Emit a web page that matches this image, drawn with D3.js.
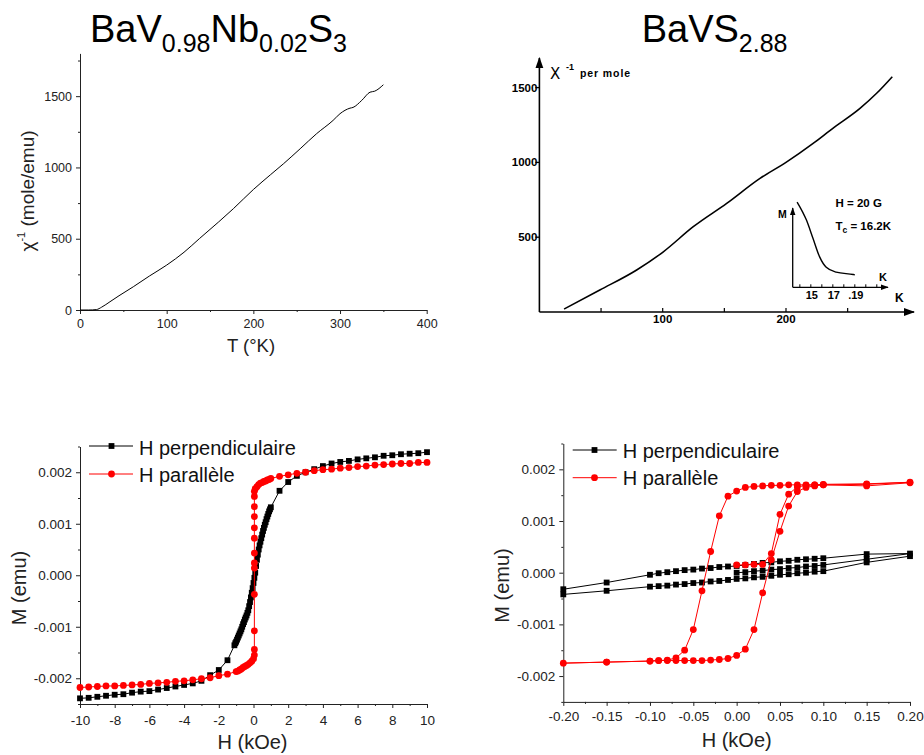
<!DOCTYPE html>
<html><head><meta charset="utf-8">
<script src="https://cdn.jsdelivr.net/npm/d3@7"></script>
<style>body{margin:0;background:#fff}svg{display:block}</style>
</head><body>
<svg id="fig" width="924" height="755"></svg>
<script>
// ---------- DATA ----------
// Panel A: BaV0.98Nb0.02S3, inverse susceptibility vs T
const tempA = [0,10,19,25,34.6,45,61.5,80,100,120,138,160,177,200,220,235,254,273,292,300,311.5,315,325,334.6,340,350];
const chiA  = [0,0,3,20,58,100,163,238,315,405,502,618,711,845,950,1027,1131,1237,1330,1377,1416,1421,1470,1528,1535,1580];
const ticksAx = [0,100,200,300,400];
const ticksAy = [0,500,1000,1500];

// Panel B: BaVS2.88
const tempB = [20,49,78.9,100,124.8,151.9,178.9,200,222,238,260,273.5,286.2];
const chiB  = [20,147,281,399,570,726,893,1000,1127,1228,1361,1462,1573];
const ticksBx = [100,200];
const ticksBy = [500,1000,1500];
// inset (arbitrary M units)
const tInset = [13.75,14.6,15.2,15.8,16.4,17.3,18.85,19.0];
const mInset = [10.66,8.4,6.1,3.8,2.5,1.9,1.6,1.56];
const inTickLabels = ["15","17",".19"];
const inTickVals = [15,17,19];

// Panel C: M(H), kOe, -10..10
const hPerpC = [-10,-9.5,-9,-8.5,-8,-7.5,-7,-6.5,-6,-5.5,-5,-4.5,-4,-3.5,-3,-2.5,-2,-1.5,
  -1.1,-1.05,-1,-0.95,-0.9,-0.85,-0.8,-0.75,-0.7,-0.65,-0.6,-0.55,-0.5,-0.45,-0.4,-0.35,-0.3,-0.25,-0.2,-0.15,-0.1,-0.05,
  0,0.05,0.1,0.15,0.2,0.25,0.3,0.35,0.4,0.45,0.5,0.55,0.6,0.65,0.7,0.75,0.8,0.85,0.9,0.95,1,
  1.5,2,2.5,3,3.5,4,4.5,5,5.5,6,6.5,7,7.5,8,8.5,9,9.5,10];
const mPerpC = [-0.00239,-0.00238,-0.00236,-0.00234,-0.00232,-0.00231,-0.00228,-0.00226,-0.00225,-0.00222,-0.00219,-0.00216,-0.00213,-0.00210,-0.00205,-0.00194,-0.00184,-0.00165,
  -0.00136,-0.00132,-0.00129,-0.00125,-0.00121,-0.00117,-0.00113,-0.00109,-0.00105,-0.00100,-0.00095,-0.00091,-0.00086,-0.00082,-0.00078,-0.00073,-0.00068,-0.00060,-0.00052,-0.00043,-0.00034,-0.00025,
  -0.00015,-0.00005,0.00005,0.00018,0.00030,0.00040,0.00050,0.00058,0.00065,0.00072,0.00079,0.00086,0.00092,0.00098,0.00103,0.00109,0.00114,0.00119,0.00124,0.00128,0.00132,
  0.00164,0.00181,0.00193,0.00200,0.00206,0.00212,0.00217,0.00220,0.00222,0.00225,0.00227,0.00229,0.00232,0.00233,0.00235,0.00236,0.00237,0.00239];
const hParC = [-10,-9.5,-9,-8.5,-8,-7.5,-7,-6.5,-6,-5.5,-5,-4.5,-4,-3.5,-3,-2.5,-2,-1.5,
  -1,-0.9,-0.8,-0.7,-0.6,-0.5,-0.4,-0.3,-0.2,-0.1,0,
  0.05,0.05,0.05,0.05,0.05,0.05,0.05,0.05,0.05,0.05,0.05,0.05,0.05,
  0.1,0.2,0.3,0.4,0.5,0.6,0.7,0.8,0.9,1,1.5,2,2.5,3,3.5,4,4.5,5,5.5,6,6.5,7,7.5,8,8.5,9,9.5,10];
const mParC = [-0.00218,-0.00217,-0.00216,-0.00215,-0.00215,-0.00214,-0.00213,-0.00212,-0.00210,-0.00209,-0.00208,-0.00206,-0.00205,-0.00203,-0.00201,-0.00199,-0.00195,-0.00192,
  -0.00187,-0.00186,-0.00184,-0.00182,-0.00179,-0.00177,-0.00175,-0.00173,-0.00170,-0.00167,-0.00162,
  -0.00155,-0.00144,-0.00108,-0.00037,0.00014,0.00024,0.00043,0.00072,0.00092,0.00114,0.00133,0.00153,0.00163,
  0.00168,0.00172,0.00176,0.00179,0.00180,0.00182,0.00183,0.00185,0.00186,0.00188,0.00192,0.00195,0.00198,0.00200,0.00203,0.00205,0.00206,0.00208,0.00209,0.00211,0.00212,0.00214,0.00215,0.00216,0.00217,0.00217,0.00219,0.00219];

// Panel D: M(H), kOe, -0.2..0.2 (virgin, descending, ascending branches)
const hPerpD = [0,0.01,0.02,0.03,0.04,0.05,0.06,0.07,0.08,0.09,0.1,0.15,0.2,
  0.15,0.1,0.09,0.08,0.07,0.06,0.05,0.04,0.03,0.02,0.01,0,-0.01,-0.02,-0.03,-0.04,-0.05,-0.06,-0.07,-0.08,-0.09,-0.1,-0.15,-0.2,
  -0.2,-0.15,-0.1,-0.09,-0.08,-0.07,-0.06,-0.05,-0.04,-0.03,-0.02,-0.01,0,0.01,0.02,0.03,0.04,0.05,0.06,0.07,0.08,0.09,0.1,0.15,0.2];
const mPerpD = [0,0.00001,0.00003,0.00004,0.00006,0.00007,0.00009,0.00010,0.00012,0.00013,0.00015,0.00026,0.00037,
  0.00036,0.00028,0.00027,0.00026,0.00025,0.00023,0.00022,0.00020,0.00019,0.00017,0.00015,0.00013,0.00012,0.00011,0.00009,0.00008,0.00006,0.00005,0.00003,0.00001,-0.00001,-0.00004,-0.00019,-0.00032,
  -0.00042,-0.00035,-0.00027,-0.00026,-0.00025,-0.00023,-0.00022,-0.00020,-0.00019,-0.00017,-0.00016,-0.00014,-0.00012,-0.00011,-0.00009,-0.00008,-0.00006,-0.00004,-0.00003,-0.00001,0,0.00002,0.00003,0.00020,0.00032];
const hParD = [0,0.01,0.02,0.03,0.04,0.05,0.06,0.07,0.08,0.09,0.1,0.15,0.2,
  0.15,0.1,0.09,0.08,0.07,0.06,0.05,0.04,0.03,0.02,0.01,0,-0.01,-0.02,-0.03,-0.04,-0.05,-0.06,-0.07,-0.08,-0.09,-0.1,-0.15,-0.2,
  -0.15,-0.1,-0.09,-0.08,-0.07,-0.06,-0.05,-0.04,-0.03,-0.02,-0.01,0,0.01,0.02,0.03,0.04,0.05,0.06,0.07,0.08,0.09,0.1,0.15,0.2];
const mParD = [0.00015,0.00015,0.00016,0.00016,0.00037,0.00113,0.00152,0.00166,0.00169,0.00170,0.00171,0.00172,0.00175,
  0.00171,0.00170,0.00170,0.00170,0.00170,0.00170,0.00169,0.00169,0.00168,0.00167,0.00165,0.00158,0.00148,0.00110,0.00041,-0.00035,-0.00110,-0.00150,-0.00165,-0.00169,-0.00170,-0.00171,-0.00173,-0.00175,
  -0.00173,-0.00171,-0.00170,-0.00170,-0.00170,-0.00170,-0.00170,-0.00170,-0.00169,-0.00168,-0.00166,-0.00160,-0.00148,-0.00110,-0.00039,0.00025,0.00080,0.00129,0.00157,0.00165,0.00168,0.00170,0.00168,0.00174];

const yTicksM = [-0.002,-0.001,0,0.001,0.002];
const yMinorM = [-0.0025,-0.0015,-0.0005,0.0005,0.0015,0.0025];
const legendNames = ["H perpendiculaire","H parallèle"];

// ---------- DRAW ----------
const FONT = "'Liberation Sans', Arial, Helvetica, sans-serif";
const svg = d3.select("#fig");
const AX = "#222";

function originAxes(sx, sy, o) {
  const g = svg.append("g");
  const x0 = sx.range()[0], y0 = sy.range()[0];
  g.append("g").attr("transform", `translate(${x0},0)`)
    .call(d3.axisLeft(sy).tickValues(o.yMajor).tickFormat(o.yFmt).tickSize(4).tickPadding(4).tickSizeOuter(0));
  g.append("g").attr("transform", `translate(${x0},0)`)
    .call(d3.axisLeft(sy).tickValues(o.yMinor).tickFormat("").tickSize(2).tickSizeOuter(0))
    .select(".domain").remove();
  g.append("g").attr("transform", `translate(0,${y0})`)
    .call(d3.axisBottom(sx).tickValues(o.xMajor).tickFormat(o.xFmt).tickSize(4).tickPadding(o.xPad).tickSizeOuter(0));
  g.append("g").attr("transform", `translate(0,${y0})`)
    .call(d3.axisBottom(sx).tickValues(o.xMinor).tickFormat("").tickSize(2).tickSizeOuter(0))
    .select(".domain").remove();
  g.selectAll("text").attr("font-family", FONT).attr("font-size", o.fs).attr("fill", AX);
  g.selectAll(".domain").attr("stroke", AX).attr("stroke-width", 1);
  g.selectAll(".tick line").attr("stroke", AX);
  return g;
}

// ===== Panel A =====
{
  const sx = d3.scaleLinear().domain([0, 400]).range([80, 426.7]);
  const sy = d3.scaleLinear().domain([0, 1800]).range([310, 53.4]);
  originAxes(sx, sy, {
    yMajor: ticksAy, yMinor: [250,750,1250,1750], yFmt: d => String(d),
    xMajor: ticksAx, xMinor: [50,150,250,350], xFmt: d => String(d), xPad: 5, fs: 12.5
  });
  const line = d3.line().x((d,i) => sx(tempA[i])).y(d => sy(d)).curve(d3.curveMonotoneX);
  svg.append("path").attr("d", line(chiA)).attr("fill","none").attr("stroke","#000").attr("stroke-width",1);

  const t = svg.append("text").attr("x", 90).attr("y", 41.7).attr("font-family", FONT).attr("font-size", 38).attr("fill","#000");
  t.append("tspan").text("BaV");
  t.append("tspan").attr("font-size", 25).attr("dy", 10).text("0.98");
  t.append("tspan").attr("dy", -10).text("Nb");
  t.append("tspan").attr("font-size", 25).attr("dy", 10).text("0.02");
  t.append("tspan").attr("dy", -10).text("S");
  t.append("tspan").attr("font-size", 25).attr("dy", 10).text("3");

  svg.append("text").attr("x", 251).attr("y", 352).attr("text-anchor","middle")
    .attr("font-family", FONT).attr("font-size", 18.5).attr("fill", AX).text("T (°K)");
  const yl = svg.append("text").attr("transform","translate(34,191) rotate(-90)").attr("text-anchor","middle")
    .attr("font-family", FONT).attr("font-size", 19).attr("fill", AX);
  yl.append("tspan").text("χ");
  yl.append("tspan").attr("font-size", 11).attr("dy", -9).text("-1");
  yl.append("tspan").attr("dy", 9).text("  (mole/emu)");
}

// ===== Panel B =====
{
  const sx = d3.scaleLinear().domain([0, 300]).range([539.4, 909.3]);
  const sy = d3.scaleLinear().domain([0, 1500]).range([312, 87.6]);
  const defs = svg.append("defs");
  defs.append("marker").attr("id","arr").attr("viewBox","0 0 10 10").attr("refX",9).attr("refY",5)
    .attr("markerWidth",7).attr("markerHeight",7).attr("orient","auto-start-reverse")
    .append("path").attr("d","M0,1.5 L10,5 L0,8.5 Z").attr("fill","#000");
  defs.append("marker").attr("id","arrs").attr("viewBox","0 0 10 10").attr("refX",9).attr("refY",5)
    .attr("markerWidth",6).attr("markerHeight",6).attr("orient","auto-start-reverse")
    .append("path").attr("d","M0,1.5 L10,5 L0,8.5 Z").attr("fill","#000");

  const g = svg.append("g");
  g.append("line").attr("x1", sx(0)).attr("y1", sy(0)).attr("x2", sx(0)).attr("y2", 58)
    .attr("stroke","#000").attr("stroke-width",1.6).attr("marker-end","url(#arr)");
  g.append("line").attr("x1", sx(0)).attr("y1", sy(0)).attr("x2", 914).attr("y2", sy(0))
    .attr("stroke","#000").attr("stroke-width",1.6).attr("marker-end","url(#arr)");
  ticksBy.forEach(v => {
    g.append("line").attr("x1", sx(0)-4).attr("x2", sx(0)).attr("y1", sy(v)).attr("y2", sy(v)).attr("stroke","#000").attr("stroke-width",1.3);
    g.append("text").attr("x", sx(0)-2).attr("y", sy(v)).attr("dy","0.35em").attr("text-anchor","end")
      .attr("font-family", FONT).attr("font-weight","bold").attr("font-size", 11.5).text(v);
  });
  [50,100,150,200,250].forEach(v => {
    g.append("line").attr("x1", sx(v)).attr("x2", sx(v)).attr("y1", sy(0)).attr("y2", sy(0)-4).attr("stroke","#000").attr("stroke-width",1.2);
  });
  ticksBx.forEach(v => {
    g.append("text").attr("x", sx(v)).attr("y", 322.5).attr("text-anchor","middle")
      .attr("font-family", FONT).attr("font-weight","bold").attr("font-size", 11.5).text(v);
  });
  g.append("text").attr("x", 895).attr("y", 302).attr("font-family", FONT).attr("font-weight","bold").attr("font-size", 12).text("K");

  const line = d3.line().x((d,i) => sx(tempB[i])).y(d => sy(d)).curve(d3.curveMonotoneX);
  g.append("path").attr("d", line(chiB)).attr("fill","none").attr("stroke","#000").attr("stroke-width",1.6);

  // y label
  g.append("text").attr("x", 550).attr("y", 79).attr("font-family", "'DejaVu Sans', sans-serif").attr("font-size", 15).text("X");
  g.append("text").attr("x", 566).attr("y", 70).attr("font-family", FONT).attr("font-weight","bold").attr("font-size", 9).text("-1");
  g.append("text").attr("x", 580).attr("y", 76.5).attr("font-family", FONT).attr("font-weight","bold")
    .attr("font-size", 10.5).attr("letter-spacing", 0.9).text("per  mole");

  // title
  const t = svg.append("text").attr("x", 641.7).attr("y", 41.7).attr("font-family", FONT).attr("font-size", 38).attr("fill","#000");
  t.append("tspan").text("BaVS");
  t.append("tspan").attr("font-size", 25).attr("dy", 10).text("2.88");

  // inset
  const ix = d3.scaleLinear().domain([13.35, 21.9]).range([792.7, 886.7]);
  const iy = d3.scaleLinear().domain([0, 10]).range([287.3, 207.3]);
  g.append("line").attr("x1", ix(13.35)).attr("y1", iy(0)).attr("x2", ix(13.35)).attr("y2", 208)
    .attr("stroke","#000").attr("stroke-width",1.3).attr("marker-end","url(#arrs)");
  g.append("line").attr("x1", ix(13.35)).attr("y1", iy(0)).attr("x2", 888).attr("y2", iy(0))
    .attr("stroke","#000").attr("stroke-width",1.3).attr("marker-end","url(#arrs)");
  [14,15,16,17,18,19,20,21].forEach(v => {
    g.append("line").attr("x1", ix(v)).attr("x2", ix(v)).attr("y1", iy(0)).attr("y2", iy(0)-3).attr("stroke","#000").attr("stroke-width",1);
  });
  inTickVals.forEach((v,i) => {
    g.append("text").attr("x", ix(v)+1).attr("y", 299).attr("text-anchor","middle")
      .attr("font-family", FONT).attr("font-weight","bold").attr("font-size", 11).text(inTickLabels[i]);
  });
  const iline = d3.line().x((d,i) => ix(tInset[i])).y(d => iy(d)).curve(d3.curveMonotoneX);
  g.append("path").attr("d", iline(mInset)).attr("fill","none").attr("stroke","#000").attr("stroke-width",1.4);
  g.append("text").attr("x", 778).attr("y", 217.5).attr("font-family", FONT).attr("font-weight","bold").attr("font-size", 10.5).text("M");
  g.append("text").attr("x", 879).attr("y", 280.5).attr("font-family", FONT).attr("font-weight","bold").attr("font-size", 11).text("K");
  g.append("text").attr("x", 835.5).attr("y", 206.5).attr("font-family", FONT).attr("font-weight","bold").attr("font-size", 11.5).text("H = 20 G");
  const tc = g.append("text").attr("x", 835.5).attr("y", 229.5).attr("font-family", FONT).attr("font-weight","bold").attr("font-size", 11.5);
  tc.append("tspan").text("T");
  tc.append("tspan").attr("font-size", 8.5).attr("dy", 3).text("c");
  tc.append("tspan").attr("dy", -3).text(" = 16.2K");
}

// ===== helper for M(H) panels =====
function mhPanel(sx, sy, hP, mP, hR, mR, o) {
  originAxes(sx, sy, {
    yMajor: yTicksM, yMinor: yMinorM, yFmt: d => d.toFixed(3),
    xMajor: o.xMajor, xMinor: o.xMinor, xFmt: o.xFmt, xPad: o.xPad, fs: 13.5
  });
  const lineP = d3.line().x((d,i) => sx(hP[i])).y(d => sy(d));
  svg.append("path").attr("d", lineP(mP)).attr("fill","none").attr("stroke","#000").attr("stroke-width",1);
  const sq = 5.8;
  svg.append("g").selectAll("rect").data(mP).join("rect")
    .attr("x", (d,i) => sx(hP[i]) - sq/2).attr("y", d => sy(d) - sq/2)
    .attr("width", sq).attr("height", sq).attr("fill","#000");
  const lineR = d3.line().x((d,i) => sx(hR[i])).y(d => sy(d));
  svg.append("path").attr("d", lineR(mR)).attr("fill","none").attr("stroke","#ff0000").attr("stroke-width",1);
  svg.append("g").selectAll("circle").data(mR).join("circle")
    .attr("cx", (d,i) => sx(hR[i])).attr("cy", d => sy(d)).attr("r", 3.4).attr("fill","#ff0000");

  // legend
  const L = o.leg;
  const lg = svg.append("g");
  [[L.y1, "#000", "sq", L.t1], [L.y2, "#ff0000", "ci", L.t2]].forEach(([yy, col, mk, tb], i) => {
    lg.append("line").attr("x1", L.x1).attr("x2", L.x2).attr("y1", yy).attr("y2", yy).attr("stroke", col).attr("stroke-width", 1);
    if (mk === "sq") lg.append("rect").attr("x", L.xm - sq/2).attr("y", yy - sq/2).attr("width", sq).attr("height", sq).attr("fill", col);
    else lg.append("circle").attr("cx", L.xm).attr("cy", yy).attr("r", 3.4).attr("fill", col);
    lg.append("text").attr("x", L.xt).attr("y", tb).attr("font-family", FONT).attr("font-size", 20).attr("fill","#111").text(legendNames[i]);
  });

  svg.append("text").attr("x", o.xlab[0]).attr("y", o.xlab[1]).attr("text-anchor","middle")
    .attr("font-family", FONT).attr("font-size", 20).attr("fill", AX).text("H (kOe)");
  svg.append("text").attr("transform", `translate(${o.ylab[0]},${o.ylab[1]}) rotate(-90)`).attr("text-anchor","middle")
    .attr("font-family", FONT).attr("font-size", 20).attr("fill", AX).text("M (emu)");
}

// ===== Panel C =====
{
  const sx = d3.scaleLinear().domain([-10, 10]).range([80, 427]);
  const sy = d3.scaleLinear().domain([-0.0025, 0.0025]).range([704, 446.5]);
  mhPanel(sx, sy, hPerpC, mPerpC, hParC, mParC, {
    xMajor: [-10,-8,-6,-4,-2,0,2,4,6,8,10], xMinor: [-9,-7,-5,-3,-1,1,3,5,7,9],
    xFmt: d => String(d), xPad: 7,
    leg: {x1: 89, x2: 133, xm: 111.5, xt: 139, y1: 446, y2: 474, t1: 454.5, t2: 481.5},
    xlab: [252.5, 749], ylab: [26, 588]
  });
}

// ===== Panel D =====
{
  const sx = d3.scaleLinear().domain([-0.2, 0.2]).range([563.3, 910]);
  const sy = d3.scaleLinear().domain([-0.0025, 0.0025]).range([701.9, 443.5]);
  mhPanel(sx, sy, hPerpD, mPerpD, hParD, mParD, {
    xMajor: [-0.2,-0.15,-0.1,-0.05,0,0.05,0.1,0.15,0.2],
    xMinor: [-0.175,-0.125,-0.075,-0.025,0.025,0.075,0.125,0.175],
    xFmt: d => d.toFixed(2), xPad: 5.5,
    leg: {x1: 572.7, x2: 616.7, xm: 594.5, xt: 622.7, y1: 450, y2: 477.7, t1: 457.5, t2: 485},
    xlab: [736.7, 747], ylab: [509, 585.5]
  });
}
</script>
</body></html>
